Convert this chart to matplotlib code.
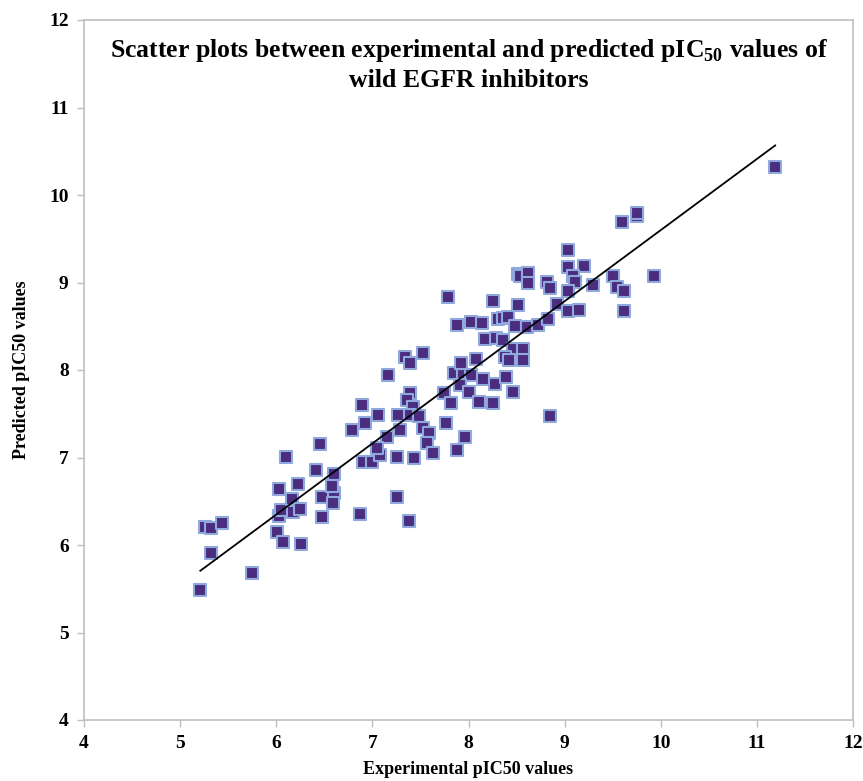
import matplotlib
matplotlib.use("Agg")
import matplotlib.pyplot as plt
import numpy as np

# Data
experimental = [
    5.21, 5.26, 5.32, 5.44, 5.32, 5.75, 6.01, 6.03, 6.03, 6.07,
    6.10, 6.05, 6.16, 6.17, 6.23, 6.25, 6.26, 6.41, 6.45, 6.48,
    6.48, 6.60, 6.59, 6.60, 6.58, 6.79, 6.87, 6.89, 6.92, 7.06,
    6.90, 7.00, 7.08, 7.15, 7.05, 7.16, 7.26, 7.26, 7.29, 7.27,
    7.34, 7.39, 7.53, 7.39, 7.36, 7.42, 7.39, 7.38, 7.43, 7.48,
    7.53, 7.59, 7.57, 7.63, 7.74, 7.79, 7.82, 7.77, 7.88, 7.96,
    7.88, 7.85, 7.94, 8.03, 7.91, 7.92, 8.08, 8.01, 8.15, 8.28,
    8.39, 8.11, 8.26, 8.46, 8.03, 8.14, 8.26, 8.31, 8.36, 8.41,
    8.17, 8.29, 8.36, 8.46, 8.57, 8.38, 8.42, 8.57, 8.48, 8.51,
    8.51, 8.54, 8.62, 8.62, 8.61, 8.72, 8.83, 8.82, 8.85, 8.92,
    8.85, 9.03, 9.03, 9.20, 9.09, 9.11, 9.29, 9.03, 9.03, 9.15,
    9.50, 9.55, 9.62, 9.62, 9.60, 9.75, 9.75, 9.93, 11.19,
]
predicted = [
    5.49, 6.21, 6.19, 6.25, 5.91, 5.68, 6.15, 6.33, 6.64, 6.04,
    7.01, 6.40, 6.53, 6.38, 6.70, 6.41, 6.01, 6.86, 7.15, 6.55,
    6.32, 6.60, 6.48, 6.81, 6.67, 7.31, 6.36, 7.60, 7.40, 7.49,
    6.95, 6.95, 7.03, 7.24, 7.11, 7.94, 6.55, 7.01, 7.32, 7.49,
    8.15, 8.08, 8.20, 7.74, 7.66, 7.58, 7.49, 6.28, 7.00, 7.47,
    7.34, 7.28, 7.17, 7.05, 7.74, 8.84, 7.62, 7.39, 7.09, 7.23,
    8.52, 7.97, 7.94, 7.94, 7.83, 8.08, 8.13, 7.75, 7.90, 7.84,
    7.92, 7.64, 7.62, 7.75, 8.55, 8.54, 8.79, 8.58, 8.59, 8.61,
    8.35, 8.37, 8.34, 8.24, 8.24, 8.15, 8.11, 8.12, 8.50, 8.74,
    9.10, 9.07, 9.11, 8.99, 8.49, 8.52, 8.58, 9.01, 8.94, 8.75,
    7.47, 9.37, 9.18, 9.19, 9.07, 9.01, 8.97, 8.90, 8.67, 8.69,
    9.07, 8.95, 8.90, 8.67, 9.69, 9.76, 9.79, 9.07, 10.32,
]
x_ticks = [4, 5, 6, 7, 8, 9, 10, 11, 12]
y_ticks = [4, 5, 6, 7, 8, 9, 10, 11, 12]

serif = ["Liberation Serif", "DejaVu Serif"]
plt.rcParams["font.family"] = serif
plt.rcParams["mathtext.fontset"] = "custom"
plt.rcParams["mathtext.rm"] = "Liberation Serif:bold"
plt.rcParams["mathtext.bf"] = "Liberation Serif:bold"

fig = plt.figure(figsize=(8.63, 7.81), dpi=100)
ax = fig.add_axes([84 / 863, 61 / 781, 769 / 863, 700 / 781])

x = np.array(experimental)
y = np.array(predicted)
ax.scatter(x, y, marker="s", s=68, facecolor="#4B2C7E", edgecolor="#8FA9DC",
           linewidths=1.5, zorder=3)

slope, intercept = np.polyfit(x, y, 1)
xl = np.array([x.min(), x.max()])
ax.plot(xl, slope * xl + intercept, color="black", lw=1.3, zorder=4)

ax.set_xlim(4, 12)
ax.set_ylim(4, 12)
ax.set_xticks(x_ticks)
ax.set_yticks(y_ticks)
ax.tick_params(axis="both", direction="out", length=5, color="#BFBFBF",
               width=1, labelsize=14, pad=6)
for lab in ax.get_xticklabels() + ax.get_yticklabels():
    lab.set_fontweight("bold")
for sp in ax.spines.values():
    sp.set_color("#BFBFBF")
    sp.set_linewidth(1.2)

ax.set_xlabel("Experimental pIC50 values", fontsize=13, fontweight="bold", labelpad=6)
ax.set_ylabel("Predicted pIC50 values", fontsize=13, fontweight="bold", labelpad=14)

ax.text(0.5, 0.957, r"Scatter plots between experimental and predicted pIC$_{\mathbf{50}}$ values of",
        transform=ax.transAxes, ha="center", va="center", fontsize=18.5, fontweight="bold")
ax.text(0.5, 0.914, "wild EGFR inhibitors",
        transform=ax.transAxes, ha="center", va="center", fontsize=18.5, fontweight="bold")

fig.savefig("out.png", dpi=100)
